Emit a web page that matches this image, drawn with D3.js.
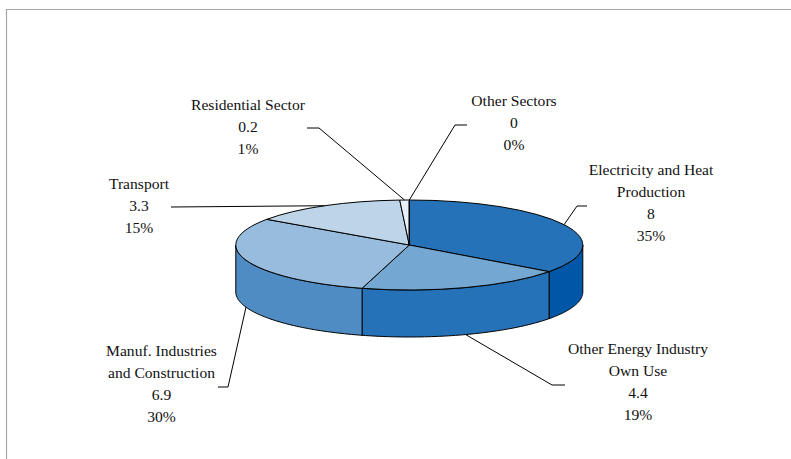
<!DOCTYPE html>
<html><head><meta charset="utf-8">
<script src="https://cdn.jsdelivr.net/npm/d3@7/dist/d3.min.js"></script>
<style>html,body{margin:0;padding:0;background:#fff}svg{display:block}text{font-family:"Liberation Serif",serif;font-size:15.6px;fill:#111}</style>
</head><body><svg id="c" width="791" height="459"></svg>
<script>
const categories = ["Electricity and Heat Production","Other Energy Industry Own Use","Manuf. Industries and Construction","Transport","Residential Sector","Other Sectors"];
const values = [8,4.4,6.9,3.3,0.2,0];
const percents = ["35%","19%","30%","15%","1%","0%"];
const topColors = ["#2672b8","#75a7d3","#97bcde","#bdd4e9","#e6eef7","#ffffff"];
const sideColors = ["#0057a7","#2672b8","#4f8cc3","#7fadd6","#c5d8ec","#ffffff"];
const labelLines = [["Electricity and Heat","Production"],["Other Energy Industry","Own Use"],["Manuf. Industries","and Construction"],["Transport"],["Residential Sector"],["Other Sectors"]];
// layout
const cx=409.3, cy=245, rx=173.5, ry=45, depth=47;
const labelAt=[[651,174.5],[638,353.5],[161.5,355.5],[139,188.5],[248,109.5],[514,105.5]];
const elbowEnd=[[587,206],[565,385],[218,387],[171,207],[307,128],[467,125]];
const elbowMid=[[577,206],[552,385],[228,387],[171,207],[319,128],[455,125]];

const svg=d3.select("#c");
svg.append("path").attr("d","M6.5,459V9.5H791").attr("fill","none").attr("stroke","#a8a8a8").attr("stroke-width",1.2);

const pie=d3.pie().sort(null).value(d=>d);
const arcs=pie(values);
const pt=(a,dy=0)=>[cx+rx*Math.sin(a),cy-ry*Math.cos(a)+dy];
const line=d3.line();

// side walls (front half only)
const wallG=svg.append("g");
arcs.forEach((d,i)=>{
  const a0=Math.max(d.startAngle,Math.PI/2), a1=Math.min(d.endAngle,Math.PI*1.5);
  if(a1<=a0) return;
  const angles=d3.range(0,61).map(k=>a0+(a1-a0)*k/60);
  const pts=angles.map(a=>pt(a)).concat(angles.slice().reverse().map(a=>pt(a,depth)));
  wallG.append("path").attr("d",line(pts)+"Z").attr("fill",sideColors[i]).attr("stroke","#000").attr("stroke-width",1).attr("stroke-linejoin","round");
});

// top faces
const arc=d3.arc().innerRadius(0).outerRadius(rx);
const topG=svg.append("g").attr("transform",`translate(${cx},${cy}) scale(1,${ry/rx})`);
topG.selectAll("path").data(arcs).join("path").attr("d",arc)
  .attr("fill",(d,i)=>topColors[i]).attr("stroke","#000").attr("stroke-width",1)
  .attr("vector-effect","non-scaling-stroke").attr("stroke-linejoin","round");

// leaders
arcs.forEach((d,i)=>{
  const m=(d.startAngle+d.endAngle)/2;
  const front=m>Math.PI/2&&m<Math.PI*1.5;
  const a=pt(m,front?depth:0);
  svg.append("path").attr("d",line([elbowEnd[i],elbowMid[i],a])).attr("fill","none").attr("stroke","#000").attr("stroke-width",1);
});

// labels
arcs.forEach((d,i)=>{
  const rows=labelLines[i].concat([String(values[i]),percents[i]]);
  const t=svg.append("text").attr("text-anchor","middle");
  rows.forEach((r,k)=>t.append("tspan").attr("x",labelAt[i][0]).attr("y",labelAt[i][1]+k*22).text(r));
});
</script></body></html>
